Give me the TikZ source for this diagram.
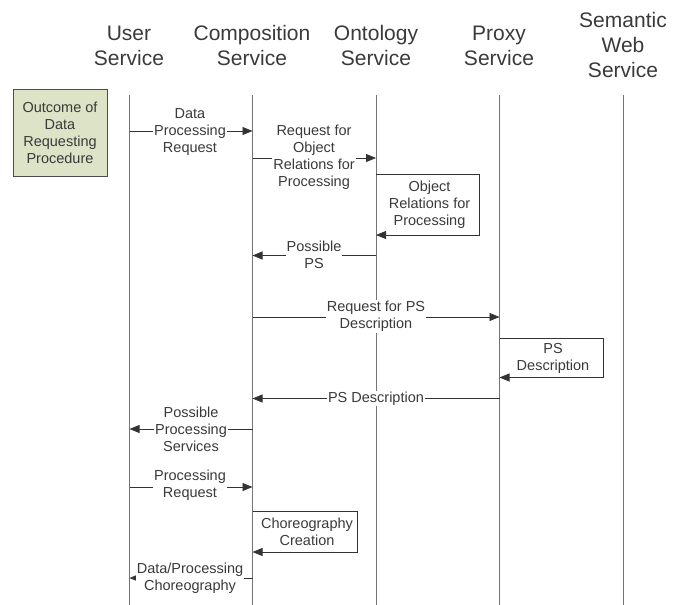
\documentclass[tikz,border=0pt]{standalone}
\usepackage{fontspec}
\setmainfont{Liberation Sans}
\usetikzlibrary{arrows.meta}
\definecolor{boxgreen}{HTML}{DCE3C6}
\definecolor{txt}{HTML}{3A3A3A}
\begin{document}
\begin{tikzpicture}[x=1pt,y=-1pt,
  hdr/.style={font=\fontsize{21}{25}\selectfont, align=center, text=txt, inner sep=0pt},
  lbl/.style={font=\fontsize{14.5}{17}\selectfont, align=center, fill=white, inner sep=1pt, text=txt},
  inlbl/.style={font=\fontsize{14.5}{17}\selectfont, align=center, inner sep=0pt, text=txt},
  life/.style={draw=black!55, line width=0.9pt},
  msg/.style={draw=black!80, line width=0.8pt, -{Triangle[length=10pt,width=8pt]}},
  selfbox/.style={draw=black!80, line width=0.8pt, -{Triangle[length=10pt,width=8pt]}},
  outcome/.style={draw=black!70, line width=0.8pt, fill=boxgreen, align=center,
    font=\fontsize{14.5}{17}\selectfont, text=txt, minimum width=94pt, minimum height=87pt, inner sep=0pt}
]
\useasboundingbox (0,0) rectangle (680,605);

% headers
\node[hdr] (hU) at (129,45.5) {User\\Service};
\node[hdr] (hC) at (252,45.5) {Composition\\Service};
\node[hdr] (hO) at (376,45.5) {Ontology\\Service};
\node[hdr] (hP) at (499,45.5) {Proxy\\Service};
\node[hdr] (hS) at (623,45) {Semantic\\Web\\Service};

% lifeline anchors
\coordinate (U) at (129.5,95);
\coordinate (C) at (252.5,95);
\coordinate (O) at (376,95);
\coordinate (P) at (499.5,95);
\coordinate (S) at (623,95);
\foreach \n in {U,C,O,P,S} \draw[life] (\n) -- (\n |- 0,605);

% outcome box
\node[outcome] (out) at (60,132.5) {Outcome of\\Data\\Requesting\\Procedure};

% messages
\draw[msg] (U |- 0,131) -- (C |- 0,131);
\draw[msg] (C |- 0,158) -- (O |- 0,158);
\draw[selfbox] (O |- 0,174) -| (479,235) -- (O |- 0,235);
\draw[msg] (O |- 0,255.5) -- (C |- 0,255.5);
\draw[msg] (C |- 0,317) -- (P |- 0,317);
\draw[selfbox] (P |- 0,338) -| (603,377.5) -- (P |- 0,377.5);
\draw[msg] (P |- 0,398.5) -- (C |- 0,398.5);
\draw[msg] (C |- 0,429) -- (U |- 0,429);
\draw[msg] (U |- 0,487) -- (C |- 0,487);
\draw[selfbox] (C |- 0,511) -| (357,552) -- (C |- 0,552);
\draw[msg] (C |- 0,578) -- (U |- 0,578);

% labels
\node[lbl] (l1) at (190,132.5) {Data\\Processing\\Request};
\node[lbl] (l2) at (314,157.5) {Request for\\Object\\Relations for\\Processing};
\node[inlbl] (l3) at (429.5,204.5) {Object\\Relations for\\Processing};
\node[lbl] (l4) at (314,254.5) {Possible\\PS};
\node[lbl] (l5) at (376,316.5) {Request for PS\\Description};
\node[inlbl] (l6) at (553,358.5) {PS\\Description};
\node[lbl] (l7) at (376,398.5) {PS Description};
\node[lbl] (l8) at (191,429) {Possible\\Processing\\Services};
\node[lbl] (l9) at (190,485.5) {Processing\\Request};
\node[inlbl] (l10) at (307,532) {Choreography\\Creation};
\node[lbl] (l11) at (190,578) {Data/Processing\\Choreography};
\end{tikzpicture}
\end{document}
